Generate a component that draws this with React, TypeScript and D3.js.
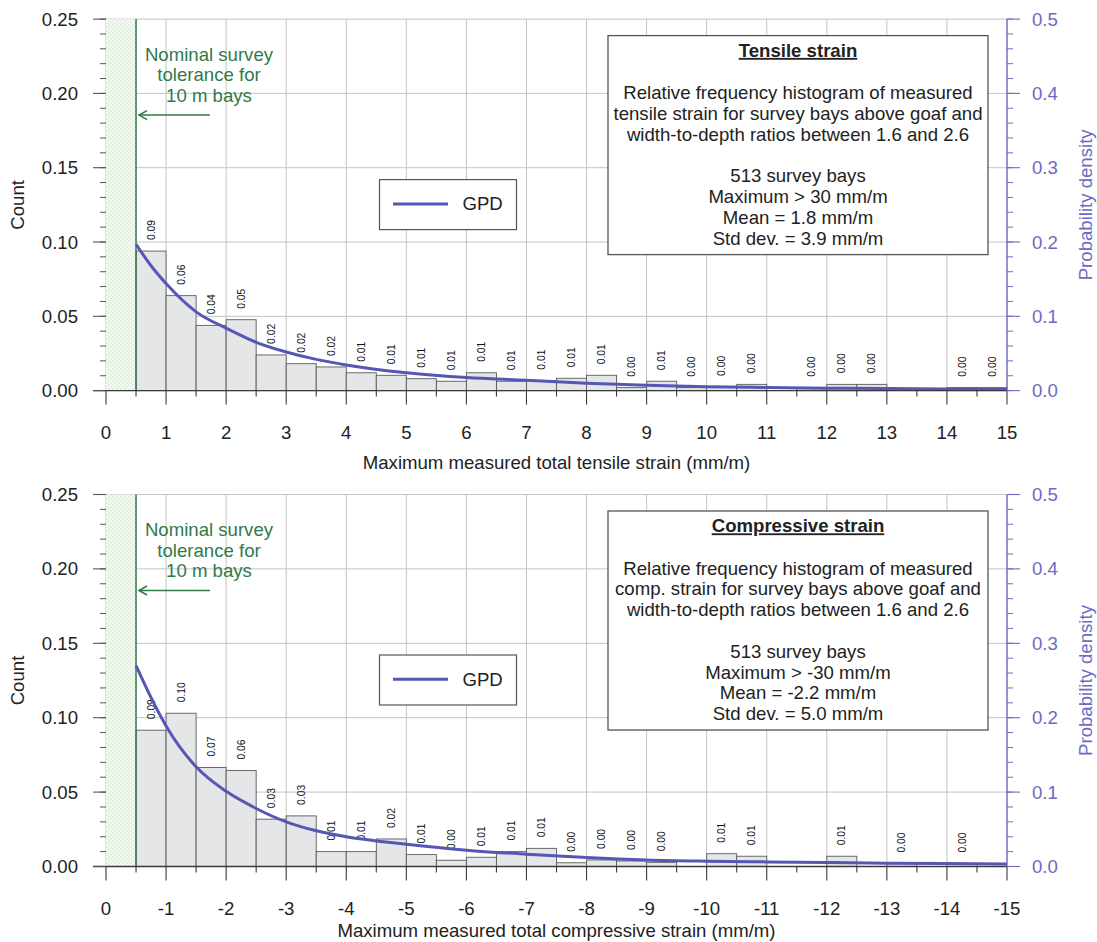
import React from "react";
import * as d3 from "d3";

// ---------- data ----------
const tensileBinStart = [0.5, 1, 1.5, 2, 2.5, 3, 3.5, 4, 4.5, 5, 5.5, 6, 6.5, 7, 7.5, 8, 8.5, 9, 9.5, 10, 10.5, 11, 11.5, 12, 12.5, 13, 13.5, 14, 14.5];
const tensileFrequency = [0.0939, 0.0639, 0.0439, 0.0477, 0.024, 0.0181, 0.0159, 0.012, 0.0103, 0.008, 0.0063, 0.012, 0.0063, 0.0067, 0.0083, 0.0103, 0.002, 0.0063, 0.002, 0.0025, 0.0042, 0, 0.002, 0.0042, 0.0042, 0, 0, 0.002, 0.002];

const compressiveBinStart = [-0.5, -1, -1.5, -2, -2.5, -3, -3.5, -4, -4.5, -5, -5.5, -6, -6.5, -7, -7.5, -8, -8.5, -9, -9.5, -10, -10.5, -11, -11.5, -12, -12.5, -13, -13.5, -14, -14.5];
const compressiveFrequency = [0.0916, 0.103, 0.0665, 0.0645, 0.0318, 0.034, 0.01, 0.01, 0.0185, 0.008, 0.0042, 0.0062, 0.01, 0.0122, 0.0025, 0.0044, 0.0037, 0.0028, 0, 0.0086, 0.0069, 0, 0, 0.0069, 0, 0.002, 0, 0.002, 0];

const tensileGpdStrain = [0.5, 0.75, 1, 1.5, 2, 2.5, 3, 3.5, 4, 5, 6, 7, 8, 9, 10, 11, 12, 13, 14, 15];
const tensileGpdDensity = [0.197, 0.168, 0.144, 0.106, 0.084, 0.065, 0.052, 0.042, 0.0345, 0.024, 0.0175, 0.014, 0.01, 0.0073, 0.0053, 0.0042, 0.0033, 0.0027, 0.0022, 0.0018];

const compressiveGpdStrain = [-0.5, -0.75, -1, -1.5, -2, -2.5, -3, -3.5, -4, -5, -6, -7, -8, -9, -10, -11, -12, -13, -14, -15];
const compressiveGpdDensity = [0.27, 0.227, 0.189, 0.134, 0.101, 0.078, 0.06, 0.048, 0.04, 0.03, 0.022, 0.0165, 0.012, 0.0088, 0.0072, 0.0062, 0.0053, 0.0045, 0.0039, 0.0034];

const tensileTickLabels = ["0", "1", "2", "3", "4", "5", "6", "7", "8", "9", "10", "11", "12", "13", "14", "15"];
const compressiveTickLabels = ["0", "-1", "-2", "-3", "-4", "-5", "-6", "-7", "-8", "-9", "-10", "-11", "-12", "-13", "-14", "-15"];
const countTickLabels = ["0.00", "0.05", "0.10", "0.15", "0.20", "0.25"];
const densityTickLabels = ["0.0", "0.1", "0.2", "0.3", "0.4", "0.5"];

const toleranceStrain = 0.5;

const tensileBoxTitle = "Tensile strain";
const tensileBoxLines = [
  "Relative frequency histogram of measured",
  "tensile strain for survey bays above goaf and",
  "width-to-depth ratios between 1.6 and 2.6",
];
const tensileStats = ["513 survey bays", "Maximum > 30 mm/m", "Mean = 1.8 mm/m", "Std dev. = 3.9 mm/m"];

const compressiveBoxTitle = "Compressive strain";
const compressiveBoxLines = [
  "Relative frequency histogram of measured",
  "comp. strain for survey bays above goaf and",
  "width-to-depth ratios between 1.6 and 2.6",
];
const compressiveStats = ["513 survey bays", "Maximum > -30 mm/m", "Mean = -2.2 mm/m", "Std dev. = 5.0 mm/m"];

const toleranceLines = ["Nominal survey", "tolerance for", "10 m bays"];

// ---------- style ----------
const FONT = "'Liberation Sans', Arial, Helvetica, sans-serif";
const FS = 18.6;
const GRID = "#c4c4c4";
const AXIS = "#3a3a3a";
const CURVE = "#5656b4";
const RIGHT = "#6b6bc4";
const GREEN = "#2f7a4a";
const BAR_FILL = "#e5e6e8";
const BAR_STROKE = "#5a5a5a";

const X_LEFT = 106;
const X_RIGHT = 1007;

type PanelProps = {
  top: number;
  y0: number;
  binStart: number[];
  freq: number[];
  gpdX: number[];
  gpdY: number[];
  tickLabels: string[];
  xTitle: string;
  titleOffset: number;
  boxTitle: string;
  boxLines: string[];
  stats: string[];
};

function Panel(p: PanelProps) {
  const last = Number(p.tickLabels[p.tickLabels.length - 1]);
  const sign = Math.sign(last);
  const x = d3.scaleLinear().domain([0, last]).range([X_LEFT, X_RIGHT]);
  const yC = d3.scaleLinear().domain([0, 0.25]).range([p.y0, p.top]);
  const yD = d3.scaleLinear().domain([0, 0.5]).range([p.y0, p.top]);
  const binW = 0.5 * sign;

  const line = d3
    .line<number>()
    .x((_, i) => x(p.gpdX[i]))
    .y((d) => yD(d))
    .curve(d3.curveMonotoneX);

  const minorX = d3.range(0.5, Math.abs(last), 1).map((v) => v * sign);
  const minorC = d3.range(0, 0.2501, 0.01);
  const minorD = d3.range(0, 0.5001, 0.02);

  const tolX = x(toleranceStrain * sign);
  const T = p.top;

  const boxL = 608;
  const boxR = 988;
  const boxCx = (boxL + boxR) / 2;

  return (
    <g>
      {/* grid */}
      {p.tickLabels.map((t) => (
        <line key={"gx" + t} x1={x(Number(t))} x2={x(Number(t))} y1={p.top} y2={p.y0} stroke={GRID} strokeWidth={1} />
      ))}
      {countTickLabels.map((t) => (
        <line key={"gy" + t} x1={X_LEFT} x2={X_RIGHT} y1={yC(Number(t))} y2={yC(Number(t))} stroke={GRID} strokeWidth={1} />
      ))}

      {/* tolerance band */}
      <rect x={x(0)} y={p.top} width={tolX - x(0)} height={p.y0 - p.top} fill="url(#dotsPattern)" />

      {/* bars */}
      {p.freq.map((v, i) =>
        v > 0 ? (
          <rect
            key={"b" + i}
            x={x(p.binStart[i])}
            y={yC(v)}
            width={x(p.binStart[i] + binW) - x(p.binStart[i])}
            height={p.y0 - yC(v)}
            fill={BAR_FILL}
            stroke={BAR_STROKE}
            strokeWidth={0.9}
          />
        ) : null
      )}

      {/* tolerance line */}
      <line x1={tolX} x2={tolX} y1={p.top} y2={p.y0} stroke={GREEN} strokeWidth={1.5} />

      {/* bar labels */}
      {p.freq.map((v, i) => {
        if (v <= 0) return null;
        const cx = x(p.binStart[i] + binW / 2);
        const cy = yC(v) - 11;
        return (
          <text
            key={"l" + i}
            transform={`translate(${cx},${cy}) rotate(-90)`}
            dy="0.35em"
            fontSize={10.3}
            fontFamily={FONT}
            fill="#111"
          >
            {v.toFixed(2)}
          </text>
        );
      })}

      {/* GPD curve */}
      <path d={line(p.gpdY) || ""} fill="none" stroke={CURVE} strokeWidth={3} />

      {/* legend */}
      <rect x={379.5} y={T + 160.5} width={137} height={50} fill="#fff" stroke="#555" strokeWidth={1.2} />
      <line x1={393} x2={448} y1={T + 184.8} y2={T + 184.8} stroke={CURVE} strokeWidth={3} />
      <text x={462.5} y={T + 191} fontSize={FS} fontFamily={FONT} fill="#222">
        GPD
      </text>

      {/* info box */}
      <rect x={boxL} y={T + 16.5} width={boxR - boxL} height={219} fill="#fff" stroke="#555" strokeWidth={1.3} />
      <text x={boxCx} y={T + 37.8} textAnchor="middle" fontSize={FS} fontWeight="bold" fontFamily={FONT} fill="#222" textDecoration="underline">
        {p.boxTitle}
      </text>
      {p.boxLines.map((s, i) => (
        <text key={"bl" + i} x={boxCx} y={T + 80 + i * 20.8} textAnchor="middle" fontSize={FS} fontFamily={FONT} fill="#222">
          {s}
        </text>
      ))}
      {p.stats.map((s, i) => (
        <text key={"st" + i} x={boxCx} y={T + 163.2 + i * 20.8} textAnchor="middle" fontSize={FS} fontFamily={FONT} fill="#222">
          {s}
        </text>
      ))}

      {/* tolerance annotation */}
      {toleranceLines.map((s, i) => (
        <text key={"tl" + i} x={209} y={T + 41.5 + i * 20.6} textAnchor="middle" fontSize={FS} fontFamily={FONT} fill={GREEN}>
          {s}
        </text>
      ))}
      <line x1={210} x2={139} y1={T + 96} y2={T + 96} stroke={GREEN} strokeWidth={1.5} />
      <polyline
        points={`${147},${T + 91.5} ${139},${T + 96} ${147},${T + 100.5}`}
        fill="none"
        stroke={GREEN}
        strokeWidth={1.5}
      />

      {/* x axis */}
      <line x1={X_LEFT - 13} x2={X_RIGHT} y1={p.y0} y2={p.y0} stroke={AXIS} strokeWidth={1.3} />
      {p.tickLabels.map((t) => (
        <g key={"xt" + t}>
          <line x1={x(Number(t))} x2={x(Number(t))} y1={p.y0} y2={p.y0 + 14} stroke={AXIS} strokeWidth={1.1} />
          <text x={x(Number(t))} y={p.y0 + 48} textAnchor="middle" fontSize={FS} fontFamily={FONT} fill="#222">
            {t}
          </text>
        </g>
      ))}
      {minorX.map((v) => (
        <line key={"mx" + v} x1={x(v)} x2={x(v)} y1={p.y0} y2={p.y0 + 6} stroke={AXIS} strokeWidth={1.1} />
      ))}
      <text x={(X_LEFT + X_RIGHT) / 2} y={p.y0 + p.titleOffset} textAnchor="middle" fontSize={FS} fontFamily={FONT} fill="#222">
        {p.xTitle}
      </text>

      {/* left axis */}
      {minorC.map((v) => (
        <line key={"mc" + v.toFixed(2)} x1={X_LEFT - 6} x2={X_LEFT} y1={yC(v)} y2={yC(v)} stroke="#555" strokeWidth={1} />
      ))}
      {countTickLabels.map((t) => (
        <g key={"yt" + t}>
          <line x1={X_LEFT - 13} x2={X_LEFT} y1={yC(Number(t))} y2={yC(Number(t))} stroke="#555" strokeWidth={1.1} />
          <text x={78} y={yC(Number(t))} dy="0.35em" textAnchor="end" fontSize={FS} fontFamily={FONT} fill="#222">
            {t}
          </text>
        </g>
      ))}
      <text
        transform={`translate(17,${(p.top + p.y0) / 2}) rotate(-90)`}
        dy="0.35em"
        textAnchor="middle"
        fontSize={FS}
        fontFamily={FONT}
        fill="#222"
      >
        Count
      </text>

      {/* right axis */}
      <line x1={X_RIGHT} x2={X_RIGHT} y1={p.top} y2={p.y0} stroke={RIGHT} strokeWidth={1.3} />
      {minorD.map((v) => (
        <line key={"md" + v.toFixed(2)} x1={X_RIGHT} x2={X_RIGHT + 6} y1={yD(v)} y2={yD(v)} stroke={RIGHT} strokeWidth={1} />
      ))}
      {densityTickLabels.map((t) => (
        <g key={"dt" + t}>
          <line x1={X_RIGHT} x2={X_RIGHT + 13} y1={yD(Number(t))} y2={yD(Number(t))} stroke={RIGHT} strokeWidth={1.1} />
          <text x={1032} y={yD(Number(t))} dy="0.35em" fontSize={FS} fontFamily={FONT} fill={RIGHT}>
            {t}
          </text>
        </g>
      ))}
      <text
        transform={`translate(1085,${(p.top + p.y0) / 2}) rotate(-90)`}
        dy="0.35em"
        textAnchor="middle"
        fontSize={FS}
        fontFamily={FONT}
        fill={RIGHT}
      >
        Probability density
      </text>
    </g>
  );
}

export default function App() {
  return (
    <svg
      width={1097}
      height={942}
      viewBox="0 0 1097 942"
      style={{ position: "absolute", left: 0, top: 0, background: "#fff", display: "block" }}
    >
      <defs>
        <pattern id="dotsPattern" width={4} height={4} patternUnits="userSpaceOnUse">
          <rect width={4} height={4} fill="#f4faf3" />
          <circle cx={1} cy={1} r={0.7} fill="#c6e3c2" />
          <circle cx={3} cy={3} r={0.7} fill="#c6e3c2" />
        </pattern>
      </defs>
      <rect x={0} y={0} width={1097} height={942} fill="#fff" />
      <Panel
        top={19.1}
        y0={390.6}
        binStart={tensileBinStart}
        freq={tensileFrequency}
        gpdX={tensileGpdStrain}
        gpdY={tensileGpdDensity}
        tickLabels={tensileTickLabels}
        xTitle="Maximum measured total tensile strain (mm/m)"
        titleOffset={78}
        boxTitle={tensileBoxTitle}
        boxLines={tensileBoxLines}
        stats={tensileStats}
      />
      <Panel
        top={494.5}
        y0={866.5}
        binStart={compressiveBinStart}
        freq={compressiveFrequency}
        gpdX={compressiveGpdStrain}
        gpdY={compressiveGpdDensity}
        tickLabels={compressiveTickLabels}
        xTitle="Maximum measured total compressive strain (mm/m)"
        titleOffset={70.5}
        boxTitle={compressiveBoxTitle}
        boxLines={compressiveBoxLines}
        stats={compressiveStats}
      />
    </svg>
  );
}
